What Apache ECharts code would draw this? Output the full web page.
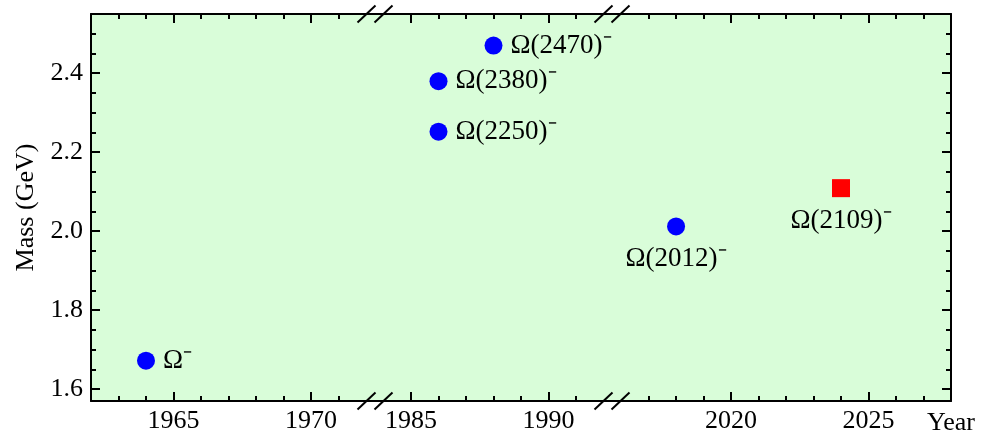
<!DOCTYPE html>
<html>
<head>
<meta charset="utf-8">
<script src="https://cdn.jsdelivr.net/npm/echarts@6.0.0/dist/echarts.min.js"></script>
<style>
html, body { margin: 0; padding: 0; background: #fff; }
#main { width: 981px; height: 431px; }
</style>
</head>
<body>
<div id="main"></div>
<script>
// data
var observedYears = [1964, 1986, 1986, 1988, 2018];
var observedMass = [1.672, 2.252, 2.380, 2.470, 2.012];
var observedNames = ['Ω⁻', 'Ω(2250)⁻', 'Ω(2380)⁻', 'Ω(2470)⁻', 'Ω(2012)⁻'];
var newYears = [2024];
var newMass = [2.109];
var newNames = ['Ω(2109)⁻'];

// broken year axis: three pieces
var yearRanges = [[1962, 1972.33], [1983.69, 1992.31], [2015.67, 2028]];
var yearLabels = [[1965, 1970], [1985, 1990], [2020, 2025]];
var massLabels = [1.6, 1.8, 2.0, 2.2, 2.4];
var massRange = [1.57, 2.55];

var FONT = "'Liberation Serif', 'Times New Roman', serif";
var BG = '#d9fdd9';
var pxPerYear = 27.5;
var plotLeft = 91, plotTop = 14, plotHeight = 387;

// grid edges from the year spans
var edges = [plotLeft];
yearRanges.forEach(function (r) {
    edges.push(edges[edges.length - 1] + (r[1] - r[0]) * pxPerYear);
});
edges = edges.map(function (e) { return Math.round(e); });

function minorYears(r) {
    var out = [];
    for (var y = Math.ceil(r[0] + 0.5); y <= Math.floor(r[1] - 0.5); y++) {
        if (y % 5 !== 0) out.push(y);
    }
    return out;
}
var massMinor = [];
for (var k = 165; k <= 250; k += 5) {
    if (k % 20 !== 0) massMinor.push(k / 100);
}

var grids = [];
var xAxes = [];
var yAxes = [];
var series = [];

function tickStyle() { return { color: '#000', width: 2 }; }

yearRanges.forEach(function (r, i) {
    grids.push({
        left: edges[i], width: edges[i + 1] - edges[i],
        top: plotTop, height: plotHeight,
        containLabel: false, outerBoundsMode: 'none',
        show: true, backgroundColor: BG, borderWidth: 0
    });
    ['bottom', 'top'].forEach(function (pos) {
        var major = {
            type: 'value', gridIndex: i, position: pos, min: r[0], max: r[1],
            axisLine: { show: true, onZero: false, lineStyle: { color: '#000', width: 2 } },
            axisTick: { show: true, inside: true, length: 9, customValues: yearLabels[i], lineStyle: tickStyle() },
            axisLabel: { show: pos === 'bottom', customValues: yearLabels[i], margin: 7, color: '#000', fontFamily: FONT, fontSize: 26,
                formatter: function (v) { return String(v); } },
            splitLine: { show: false }
        };
        if (pos === 'bottom' && i === yearRanges.length - 1) {
            major.name = 'Year';
            major.nameLocation = 'end';
            major.nameGap = -24;
            major.nameTextStyle = { color: '#000', fontFamily: FONT, fontSize: 26, align: 'left', verticalAlign: 'top', padding: [9, 0, 0, 0] };
        }
        xAxes.push(major);
        xAxes.push({
            type: 'value', gridIndex: i, position: pos, min: r[0], max: r[1],
            axisLine: { show: false, onZero: false },
            axisTick: { show: true, inside: true, length: 5, customValues: minorYears(r), lineStyle: tickStyle() },
            axisLabel: { show: false },
            splitLine: { show: false }
        });
    });
});

// y axes: left side on the first piece, right side on the last, hidden in between
var yIndexOfGrid = [];
yAxes.push({
    type: 'value', gridIndex: 0, position: 'left', min: massRange[0], max: massRange[1],
    name: 'Mass (GeV)', nameLocation: 'middle', nameGap: 52,
    nameTextStyle: { color: '#000', fontFamily: FONT, fontSize: 26 },
    axisLine: { show: true, onZero: false, lineStyle: { color: '#000', width: 2 } },
    axisTick: { show: true, inside: true, length: 9, customValues: massLabels, lineStyle: tickStyle() },
    axisLabel: { customValues: massLabels, margin: 8, color: '#000', fontFamily: FONT, fontSize: 26,
        formatter: function (v) { return v.toFixed(1); } },
    splitLine: { show: false }
});
yAxes.push({
    type: 'value', gridIndex: 0, position: 'left', min: massRange[0], max: massRange[1],
    axisLine: { show: false, onZero: false },
    axisTick: { show: true, inside: true, length: 5, customValues: massMinor, lineStyle: tickStyle() },
    axisLabel: { show: false }, splitLine: { show: false }
});
yIndexOfGrid[0] = 0;
yAxes.push({ type: 'value', gridIndex: 1, show: false, min: massRange[0], max: massRange[1], splitLine: { show: false } });
yIndexOfGrid[1] = 2;
yAxes.push({
    type: 'value', gridIndex: 2, position: 'right', min: massRange[0], max: massRange[1],
    axisLine: { show: true, onZero: false, lineStyle: { color: '#000', width: 2 } },
    axisTick: { show: true, inside: true, length: 9, customValues: massLabels, lineStyle: tickStyle() },
    axisLabel: { show: false }, splitLine: { show: false }
});
yAxes.push({
    type: 'value', gridIndex: 2, position: 'right', min: massRange[0], max: massRange[1],
    axisLine: { show: false, onZero: false },
    axisTick: { show: true, inside: true, length: 5, customValues: massMinor, lineStyle: tickStyle() },
    axisLabel: { show: false }, splitLine: { show: false }
});
yIndexOfGrid[2] = 3;

function pointsIn(r, years, mass, names) {
    var out = [];
    for (var j = 0; j < years.length; j++) {
        if (years[j] >= r[0] && years[j] <= r[1]) out.push({ value: [years[j], mass[j]], name: names[j] });
    }
    return out;
}

yearRanges.forEach(function (r, i) {
    var below = i === yearRanges.length - 1;
    var label = {
        show: true, formatter: '{b}', position: below ? 'bottom' : 'right', distance: below ? 10 : 8,
        color: '#000', fontFamily: FONT, fontSize: 27
    };
    series.push({
        type: 'scatter', xAxisIndex: i * 4, yAxisIndex: yIndexOfGrid[i],
        symbol: 'circle', symbolSize: 18, itemStyle: { color: '#0000ff', opacity: 1 },
        label: label, data: pointsIn(r, observedYears, observedMass, observedNames)
    });
    series.push({
        type: 'scatter', xAxisIndex: i * 4, yAxisIndex: yIndexOfGrid[i],
        symbol: 'rect', symbolSize: 18, itemStyle: { color: '#ff0000', opacity: 1 },
        label: label, data: pointsIn(r, newYears, newMass, newNames)
    });
});

// double slash break marks on top and bottom frame
var graphics = [];
[edges[1], edges[2]].forEach(function (bx) {
    [plotTop, plotTop + plotHeight].forEach(function (by) {
        [-8.5, 8.5].forEach(function (off) {
            graphics.push({
                type: 'line', z: 100,
                shape: { x1: bx + off - 9, y1: by + 8.5, x2: bx + off + 9, y2: by - 8.5 },
                style: { stroke: '#000', lineWidth: 2 }
            });
        });
    });
});

var chart = echarts.init(document.getElementById('main'), null, { renderer: 'canvas' });
chart.setOption({
    animation: false,
    backgroundColor: '#fff',
    grid: grids,
    xAxis: xAxes,
    yAxis: yAxes,
    series: series,
    graphic: graphics
});
</script>
</body>
</html>
